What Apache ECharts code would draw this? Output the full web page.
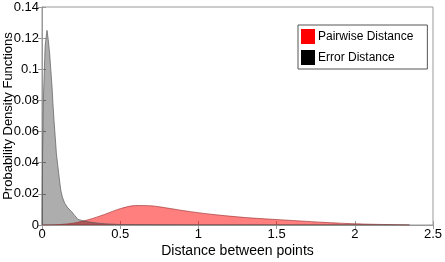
<!DOCTYPE html>
<html>
<head>
<meta charset="utf-8">
<script src="https://cdn.jsdelivr.net/npm/echarts@6/dist/echarts.min.js"></script>
<style>
  html, body { margin: 0; padding: 0; background: #fff; }
  #chart { width: 445px; height: 262px; }
</style>
</head>
<body>
<div id="chart"></div>
<script>
// distance (x) and density (y)
var errorX = [0, 0.003, 0.01, 0.02, 0.032, 0.04, 0.049, 0.056, 0.064, 0.07, 0.077, 0.085, 0.092, 0.1, 0.107, 0.114, 0.12, 0.13, 0.145, 0.165, 0.19, 0.21, 0.23, 0.26, 0.295, 0.35, 0.4, 0.5, 1.0, 1.5, 2.0, 2.35];
var errorY = [0, 0.04, 0.085, 0.115, 0.125, 0.119, 0.11, 0.1, 0.089, 0.078, 0.067, 0.056, 0.046, 0.039, 0.033, 0.027, 0.0225, 0.018, 0.014, 0.011, 0.0085, 0.006, 0.0036, 0.0028, 0.0021, 0.0013, 0.0008, 0.0003, 0.0001, 0.0001, 0.0001, 0];
var pairX = [0, 0.1, 0.2, 0.3, 0.4, 0.5, 0.6, 0.7, 0.8, 0.9, 1.0, 1.1, 1.2, 1.3, 1.4, 1.5, 1.6, 1.7, 1.8, 1.9, 2.0, 2.1, 2.2, 2.3, 2.35];
var pairY = [0, 0.0002, 0.0012, 0.0035, 0.0068, 0.0105, 0.0125, 0.0123, 0.0109, 0.0093, 0.0079, 0.0067, 0.0057, 0.0048, 0.0041, 0.0035, 0.0029, 0.0023, 0.0017, 0.0012, 0.0008, 0.0005, 0.0003, 0.0001, 0];
var legendNames = ["Pairwise Distance", "Error Distance"];

function zip(xs, ys) {
  return xs.map(function (x, i) { return [x, ys[i]]; });
}

var font = "Liberation Sans, Arial, sans-serif";
var axisGray = "#999";

var myChart = echarts.init(document.getElementById("chart"));
var option = {
  animation: false,
  textStyle: { fontFamily: font },
  grid: {
    left: 42, right: 12, top: 7, bottom: 37,
    outerBoundsMode: "none",
    show: true, borderColor: axisGray, borderWidth: 1
  },
  legend: {
    left: 298, top: 25,
    orient: "vertical",
    icon: "rect",
    itemWidth: 14, itemHeight: 15, itemGap: 6,
    padding: [4, 14, 4, 3],
    borderColor: "#555", borderWidth: 1,
    textStyle: { fontFamily: font, fontSize: 12, color: "#000", padding: [0, 0, 0, -2] },
    data: [
      { name: legendNames[0], itemStyle: { color: "#ff0000", opacity: 1 } },
      { name: legendNames[1], itemStyle: { color: "#000000", opacity: 1 } }
    ]
  },
  xAxis: [{
    type: "value", min: 0, max: 2.5, interval: 0.5,
    name: "Distance between points", nameLocation: "middle", nameGap: 19,
    nameMoveOverlap: false,
    nameTextStyle: { fontSize: 14, color: "#000", fontFamily: font },
    axisLine: { lineStyle: { color: axisGray } },
    axisTick: { inside: true, length: 4, lineStyle: { color: axisGray } },
    axisLabel: { color: "#000", fontSize: 13, margin: 3, fontFamily: font },
    splitLine: { show: false }
  }, {
    type: "value", min: 0, max: 2.5, interval: 0.5, position: "top",
    axisLine: { lineStyle: { color: axisGray } },
    axisTick: { inside: true, length: 4, lineStyle: { color: axisGray } },
    axisLabel: { show: false }, splitLine: { show: false }
  }],
  yAxis: [{
    type: "value", min: 0, max: 0.14, interval: 0.02,
    name: "Probability Density Functions", nameLocation: "middle", nameGap: 27,
    nameMoveOverlap: false,
    nameTextStyle: { fontSize: 13, color: "#000", fontFamily: font },
    axisLine: { show: true, lineStyle: { color: axisGray } },
    axisTick: { show: true, inside: true, length: 4, lineStyle: { color: axisGray } },
    axisLabel: { color: "#000", fontSize: 13, margin: 3, fontFamily: font },
    splitLine: { show: false }
  }, {
    type: "value", min: 0, max: 0.14, interval: 0.02, position: "right",
    axisLine: { show: true, lineStyle: { color: axisGray } },
    axisTick: { show: true, inside: true, length: 4, lineStyle: { color: axisGray } },
    axisLabel: { show: false }, splitLine: { show: false }
  }],
  series: [{
    name: legendNames[0], type: "line", data: zip(pairX, pairY),
    showSymbol: false, smooth: 0.3,
    itemStyle: { color: "#ff0000" },
    lineStyle: { color: "rgba(150,40,40,0.6)", width: 1 },
    areaStyle: { color: "rgba(255,0,0,0.5)", opacity: 1 }
  }, {
    name: legendNames[1], type: "line", data: zip(errorX, errorY),
    showSymbol: false,
    itemStyle: { color: "#000000" },
    lineStyle: { color: "rgba(90,90,90,0.7)", width: 1 },
    areaStyle: { color: "rgba(0,0,0,0.32)", opacity: 1 }
  }]
};
myChart.setOption(option);
</script>
</body>
</html>
